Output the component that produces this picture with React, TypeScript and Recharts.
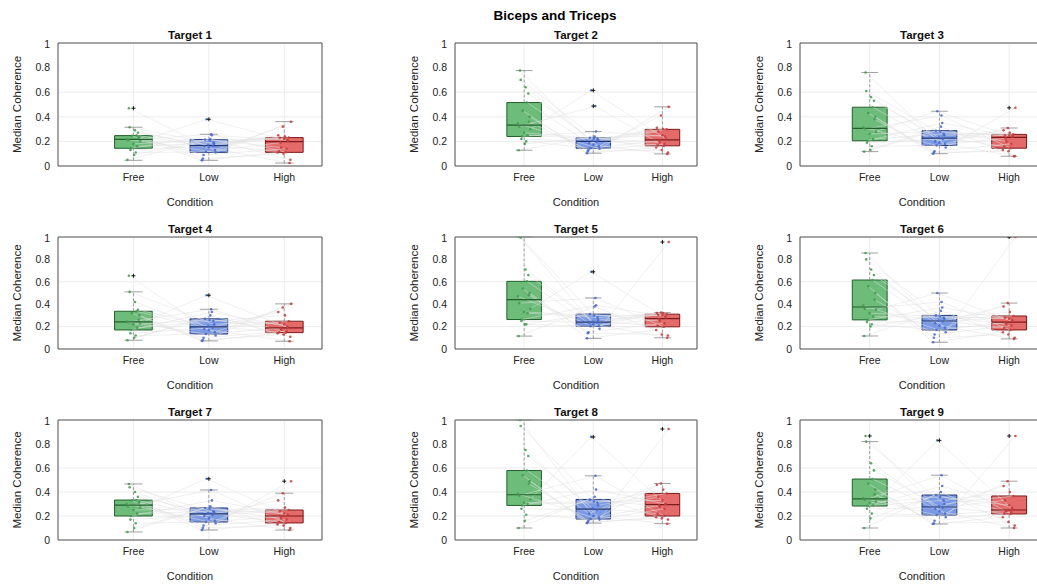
import React from 'react';
import {
  ComposedChart,
  XAxis,
  YAxis,
  CartesianGrid,
  Scatter,
  Line,
  ReferenceArea,
  ReferenceLine,
  Label,
} from 'recharts';

const CONDITIONS = ['Free', 'Low', 'High'];
const Y_TICKS = [0, 0.2, 0.4, 0.6, 0.8, 1];

// horizontal jitter of each subject's dot, in category units
const JIT_FREE = [-0.04, 0.07, -0.08, 0.02, 0.09, -0.02, 0.05, -0.06, 0.01, -0.09, 0.06, -0.03, 0.08, -0.05, 0.03, -0.07, 0.04, 0.0];
const JIT_LOW = [0.05, -0.07, 0.02, 0.08, -0.03, -0.09, 0.06, 0.0, -0.05, 0.09, -0.01, 0.04, -0.08, 0.07, -0.04, 0.03, -0.06, 0.01];
const JIT_HIGH = [-0.06, 0.03, 0.08, -0.02, 0.05, -0.09, 0.01, 0.07, -0.04, 0.09, -0.07, 0.04, -0.01, 0.06, -0.05, 0.02, -0.08, 0.0];

// per subject values (same subject index across conditions)
const T1_FREE = [0.13, 0.23, 0.05, 0.29, 0.2, 0.245, 0.16, 0.47, 0.09, 0.22, 0.27, 0.144, 0.24, 0.315, 0.11, 0.21, 0.25, 0.18];
const T1_LOW = [0.165, 0.09, 0.22, 0.13, 0.38, 0.046, 0.19, 0.15, 0.215, 0.11, 0.17, 0.25, 0.06, 0.18, 0.115, 0.258, 0.16, 0.21];
const T1_HIGH = [0.23, 0.14, 0.05, 0.32, 0.205, 0.11, 0.24, 0.024, 0.15, 0.36, 0.12, 0.21, 0.1, 0.232, 0.19, 0.112, 0.25, 0.22];

const T2_FREE = [0.22, 0.36, 0.128, 0.64, 0.3, 0.45, 0.25, 0.776, 0.18, 0.345, 0.59, 0.24, 0.4, 0.7, 0.2, 0.32, 0.516, 0.27];
const T2_LOW = [0.195, 0.13, 0.24, 0.16, 0.615, 0.104, 0.22, 0.17, 0.23, 0.14, 0.205, 0.28, 0.12, 0.21, 0.145, 0.487, 0.185, 0.225];
const T2_HIGH = [0.28, 0.18, 0.11, 0.41, 0.22, 0.15, 0.3, 0.098, 0.19, 0.481, 0.17, 0.24, 0.13, 0.298, 0.205, 0.164, 0.31, 0.25];

const T3_FREE = [0.19, 0.38, 0.117, 0.56, 0.28, 0.43, 0.22, 0.76, 0.13, 0.312, 0.53, 0.205, 0.4, 0.61, 0.16, 0.3, 0.478, 0.26];
const T3_LOW = [0.22, 0.12, 0.32, 0.18, 0.445, 0.1, 0.26, 0.19, 0.287, 0.15, 0.234, 0.35, 0.11, 0.25, 0.167, 0.41, 0.2, 0.28];
const T3_HIGH = [0.25, 0.18, 0.08, 0.309, 0.239, 0.13, 0.27, 0.079, 0.2, 0.473, 0.16, 0.24, 0.12, 0.257, 0.225, 0.145, 0.29, 0.245];

const T4_FREE = [0.14, 0.26, 0.078, 0.42, 0.23, 0.32, 0.19, 0.654, 0.1, 0.244, 0.35, 0.17, 0.3, 0.51, 0.12, 0.24, 0.337, 0.22];
const T4_LOW = [0.19, 0.1, 0.3, 0.15, 0.48, 0.072, 0.25, 0.17, 0.269, 0.12, 0.204, 0.33, 0.08, 0.22, 0.134, 0.355, 0.18, 0.26];
const T4_HIGH = [0.235, 0.16, 0.11, 0.37, 0.191, 0.14, 0.3, 0.069, 0.175, 0.403, 0.15, 0.2, 0.13, 0.248, 0.185, 0.146, 0.33, 0.22];

const T5_FREE = [0.25, 0.48, 0.115, 0.71, 0.36, 0.54, 0.32, 1.0, 0.22, 0.47, 0.66, 0.263, 0.5, 0.995, 0.22, 0.41, 0.604, 0.33];
const T5_LOW = [0.235, 0.15, 0.38, 0.21, 0.689, 0.095, 0.28, 0.22, 0.311, 0.18, 0.245, 0.39, 0.14, 0.26, 0.204, 0.456, 0.23, 0.3];
const T5_HIGH = [0.305, 0.23, 0.12, 0.325, 0.28, 0.17, 0.32, 0.1, 0.25, 0.955, 0.21, 0.29, 0.13, 0.311, 0.265, 0.198, 0.322, 0.3];

const T6_FREE = [0.24, 0.44, 0.116, 0.71, 0.35, 0.56, 0.29, 0.857, 0.2, 0.39, 0.66, 0.26, 0.5, 0.8, 0.22, 0.36, 0.616, 0.32];
const T6_LOW = [0.245, 0.13, 0.34, 0.19, 0.5, 0.06, 0.28, 0.21, 0.3, 0.15, 0.255, 0.37, 0.1, 0.27, 0.17, 0.42, 0.23, 0.29];
const T6_HIGH = [0.28, 0.21, 0.1, 0.41, 0.245, 0.15, 0.33, 0.09, 0.22, 1.0, 0.19, 0.26, 0.13, 0.295, 0.235, 0.17, 0.38, 0.27];

const T7_FREE = [0.17, 0.31, 0.067, 0.4, 0.27, 0.33, 0.22, 0.467, 0.1, 0.3, 0.36, 0.2, 0.32, 0.44, 0.14, 0.28, 0.333, 0.25];
const T7_LOW = [0.21, 0.12, 0.28, 0.16, 0.51, 0.083, 0.24, 0.18, 0.267, 0.14, 0.224, 0.33, 0.1, 0.23, 0.15, 0.417, 0.2, 0.26];
const T7_HIGH = [0.24, 0.17, 0.1, 0.39, 0.205, 0.13, 0.27, 0.083, 0.18, 0.49, 0.15, 0.21, 0.12, 0.25, 0.195, 0.142, 0.33, 0.22];

const T8_FREE = [0.26, 0.47, 0.1, 0.75, 0.34, 0.54, 0.3, 1.0, 0.16, 0.385, 0.7, 0.288, 0.49, 0.95, 0.21, 0.37, 0.579, 0.31];
const T8_LOW = [0.25, 0.16, 0.36, 0.19, 0.859, 0.141, 0.31, 0.2, 0.338, 0.17, 0.265, 0.42, 0.15, 0.29, 0.175, 0.535, 0.22, 0.32];
const T8_HIGH = [0.36, 0.26, 0.17, 0.471, 0.298, 0.19, 0.42, 0.136, 0.28, 0.925, 0.22, 0.3, 0.18, 0.388, 0.29, 0.2, 0.46, 0.33];

const T9_FREE = [0.26, 0.38, 0.1, 0.64, 0.32, 0.47, 0.29, 0.867, 0.18, 0.35, 0.58, 0.283, 0.42, 0.82, 0.22, 0.335, 0.508, 0.31];
const T9_LOW = [0.27, 0.16, 0.4, 0.22, 0.83, 0.133, 0.33, 0.24, 0.375, 0.19, 0.28, 0.45, 0.14, 0.3, 0.208, 0.54, 0.26, 0.36];
const T9_HIGH = [0.33, 0.23, 0.12, 0.49, 0.255, 0.19, 0.4, 0.1, 0.24, 0.867, 0.22, 0.27, 0.15, 0.367, 0.245, 0.217, 0.45, 0.29];

// box stats per condition: [whisker low, q1, median, q3, whisker high]
const T1_STATS = [[0.046, 0.144, 0.217, 0.247, 0.315], [0.046, 0.111, 0.166, 0.215, 0.258], [0.024, 0.111, 0.198, 0.231, 0.361]];
const T2_STATS = [[0.128, 0.24, 0.333, 0.516, 0.776], [0.104, 0.145, 0.2, 0.23, 0.28], [0.098, 0.164, 0.213, 0.298, 0.481]];
const T3_STATS = [[0.117, 0.205, 0.306, 0.478, 0.76], [0.1, 0.167, 0.227, 0.287, 0.445], [0.079, 0.145, 0.232, 0.257, 0.309]];
const T4_STATS = [[0.078, 0.17, 0.242, 0.337, 0.51], [0.072, 0.134, 0.197, 0.269, 0.355], [0.069, 0.146, 0.188, 0.248, 0.403]];
const T5_STATS = [[0.115, 0.263, 0.441, 0.604, 1.0], [0.095, 0.204, 0.24, 0.311, 0.456], [0.1, 0.198, 0.272, 0.311, 0.325]];
const T6_STATS = [[0.116, 0.26, 0.375, 0.616, 0.857], [0.06, 0.17, 0.25, 0.3, 0.5], [0.09, 0.17, 0.24, 0.295, 0.41]];
const T7_STATS = [[0.067, 0.2, 0.29, 0.333, 0.467], [0.083, 0.15, 0.217, 0.267, 0.417], [0.083, 0.142, 0.2, 0.25, 0.39]];
const T8_STATS = [[0.1, 0.288, 0.377, 0.579, 1.0], [0.141, 0.175, 0.258, 0.338, 0.535], [0.136, 0.2, 0.294, 0.388, 0.471]];
const T9_STATS = [[0.1, 0.283, 0.342, 0.508, 0.82], [0.133, 0.208, 0.275, 0.375, 0.54], [0.1, 0.217, 0.25, 0.367, 0.49]];

// outliers (drawn as black +) per condition
const T1_OUT = [[0.47], [0.38], []];
const T2_OUT = [[], [0.615, 0.487], []];
const T3_OUT = [[], [], [0.473]];
const T4_OUT = [[0.654], [0.48], []];
const T5_OUT = [[], [0.689], [0.955]];
const T6_OUT = [[], [], [1.0]];
const T7_OUT = [[], [0.51], [0.49]];
const T8_OUT = [[], [0.859], [0.925]];
const T9_OUT = [[0.867], [0.83], [0.867]];

const TARGETS = [
  { title: 'Target 1', values: [T1_FREE, T1_LOW, T1_HIGH], stats: T1_STATS, out: T1_OUT },
  { title: 'Target 2', values: [T2_FREE, T2_LOW, T2_HIGH], stats: T2_STATS, out: T2_OUT },
  { title: 'Target 3', values: [T3_FREE, T3_LOW, T3_HIGH], stats: T3_STATS, out: T3_OUT },
  { title: 'Target 4', values: [T4_FREE, T4_LOW, T4_HIGH], stats: T4_STATS, out: T4_OUT },
  { title: 'Target 5', values: [T5_FREE, T5_LOW, T5_HIGH], stats: T5_STATS, out: T5_OUT },
  { title: 'Target 6', values: [T6_FREE, T6_LOW, T6_HIGH], stats: T6_STATS, out: T6_OUT },
  { title: 'Target 7', values: [T7_FREE, T7_LOW, T7_HIGH], stats: T7_STATS, out: T7_OUT },
  { title: 'Target 8', values: [T8_FREE, T8_LOW, T8_HIGH], stats: T8_STATS, out: T8_OUT },
  { title: 'Target 9', values: [T9_FREE, T9_LOW, T9_HIGH], stats: T9_STATS, out: T9_OUT },
];

const JITTER = [JIT_FREE, JIT_LOW, JIT_HIGH];
const COLORS = [
  { fill: '#5db56b', edge: '#22602c', dot: '#3f9a4e' },
  { fill: '#6b8fe2', edge: '#1f3474', dot: '#4469cc' },
  { fill: '#e25b5b', edge: '#7c1b1b', dot: '#c63a3a' },
];

// plot-area layout of the 3x3 grid
const COL_LEFT = [58, 455, 800];
const COL_W = [264, 242, 244];
const ROW_TOP = [43, 237, 420];
const ROW_H = [123, 112, 120];

const HALF_BOX = 0.25;
const HALF_CAP = 0.12;

const Plus = (props: any) => {
  const { cx, cy } = props;
  if (cx == null || cy == null) return <g />;
  return (
    <path
      d={`M${cx - 2},${cy}H${cx + 2}M${cx},${cy - 2}V${cy + 2}`}
      stroke="#000"
      strokeWidth={0.9}
    />
  );
};

const makeDot = (color: string) => (props: any) => {
  const { cx, cy } = props;
  if (cx == null || cy == null) return <g />;
  return <circle cx={cx} cy={cy} r={1.3} fill={color} fillOpacity={0.85} />;
};

const Panel = ({ t, idx }: { t: any; idx: number }) => {
  const col = idx % 3;
  const row = Math.floor(idx / 3);
  const pw = COL_W[col];
  const ph = ROW_H[row];
  const left = 60;
  const top = 4;
  const xh = 48;

  const subjects = t.values[0].map((_: number, i: number) =>
    [0, 1, 2].map((c) => ({ x: c + 1 + JITTER[c][i], y: t.values[c][i] }))
  );
  const dots = [0, 1, 2].map((c) =>
    t.values[c].map((v: number, i: number) => ({ x: c + 1 + JITTER[c][i], y: v }))
  );
  const outs = t.out.flatMap((arr: number[], c: number) => arr.map((v) => ({ x: c + 1, y: v })));

  return (
    <>
      <div
        style={{
          position: 'absolute',
          left: COL_LEFT[col],
          top: ROW_TOP[row] - 15,
          width: pw,
          textAlign: 'center',
          fontSize: 11.5,
          fontWeight: 'bold',
          lineHeight: '14px',
          color: '#111',
        }}
      >
        {t.title}
      </div>
      <div style={{ position: 'absolute', left: COL_LEFT[col] - left, top: ROW_TOP[row] - top }}>
        <ComposedChart width={pw + left + 2} height={ph + top + xh} margin={{ top, right: 2, bottom: 0, left: 0 }}>
          <CartesianGrid stroke="#ececec" />
          <XAxis
            type="number"
            dataKey="x"
            domain={[0, 3.5]}
            ticks={[1, 2, 3]}
            allowDataOverflow
            tickFormatter={(v: number) => CONDITIONS[v - 1]}
            height={xh}
            axisLine={false}
            tickLine={false}
            tickSize={4}
            tickMargin={4}
            tick={{ fontSize: 10.5, fill: '#222' }}
          >
            <Label value="Condition" position="insideBottom" offset={8} style={{ fontSize: 11, fill: '#222' }} />
          </XAxis>
          <YAxis
            type="number"
            dataKey="y"
            domain={[0, 1]}
            ticks={Y_TICKS}
            allowDataOverflow
            width={left}
            axisLine={false}
            tickLine={false}
            tick={{ fontSize: 10.5, fill: '#222' }}
          >
            <Label
              value="Median Coherence"
              angle={-90}
              position="insideLeft"
              offset={19}
              style={{ fontSize: 11.5, fill: '#222', textAnchor: 'middle' }}
            />
          </YAxis>

          {subjects.map((seg: any[], i: number) => (
            <Line
              key={`l${i}`}
              data={seg}
              dataKey="y"
              stroke="#e0e0e0"
              strokeWidth={0.5}
              dot={false}
              activeDot={false}
              legendType="none"
              isAnimationActive={false}
            />
          ))}

          {t.stats.map((s: number[], c: number) => {
            const cx = c + 1;
            const col3 = COLORS[c];
            return (
              <React.Fragment key={`b${c}`}>
                <ReferenceLine
                  segment={[{ x: cx, y: s[3] }, { x: cx, y: s[4] }]}
                  stroke="#8a8a8a"
                  strokeDasharray="3 2"
                  strokeWidth={0.8}
                />
                <ReferenceLine
                  segment={[{ x: cx, y: s[0] }, { x: cx, y: s[1] }]}
                  stroke="#8a8a8a"
                  strokeDasharray="3 2"
                  strokeWidth={0.8}
                />
                <ReferenceLine
                  segment={[{ x: cx - HALF_CAP, y: s[4] }, { x: cx + HALF_CAP, y: s[4] }]}
                  stroke="#8a8a8a"
                  strokeWidth={0.8}
                />
                <ReferenceLine
                  segment={[{ x: cx - HALF_CAP, y: s[0] }, { x: cx + HALF_CAP, y: s[0] }]}
                  stroke="#8a8a8a"
                  strokeWidth={0.8}
                />
                <ReferenceArea
                  x1={cx - HALF_BOX}
                  x2={cx + HALF_BOX}
                  y1={s[1]}
                  y2={s[3]}
                  fill={col3.fill}
                  fillOpacity={0.9}
                  stroke={col3.edge}
                  strokeWidth={1}
                />
                <ReferenceLine
                  segment={[{ x: cx - HALF_BOX, y: s[2] }, { x: cx + HALF_BOX, y: s[2] }]}
                  stroke={col3.edge}
                  strokeWidth={1.2}
                />
              </React.Fragment>
            );
          })}

          {dots.map((d: any[], c: number) => (
            <Scatter key={`d${c}`} data={d} shape={makeDot(COLORS[c].dot)} isAnimationActive={false} />
          ))}
          <Scatter data={outs} shape={Plus} isAnimationActive={false} />

          <ReferenceArea x1={0} x2={3.5} y1={0} y2={1} fill="none" stroke="#555" strokeWidth={1} />
        </ComposedChart>
      </div>
    </>
  );
};

const App = () => {
  return (
    <div
      style={{
        position: 'absolute',
        left: 0,
        top: 0,
        width: 1037,
        height: 587,
        overflow: 'hidden',
        background: '#fff',
        fontFamily: '"Liberation Sans", Arial, Helvetica, sans-serif',
      }}
    >
      <div
        style={{
          position: 'absolute',
          left: 0,
          top: 7,
          width: 1110,
          textAlign: 'center',
          fontSize: 13.5,
          fontWeight: 'bold',
          lineHeight: '18px',
          color: '#000',
        }}
      >
        Biceps and Triceps
      </div>
      {TARGETS.map((t, i) => (
        <Panel key={t.title} t={t} idx={i} />
      ))}
    </div>
  );
};

export default App;
